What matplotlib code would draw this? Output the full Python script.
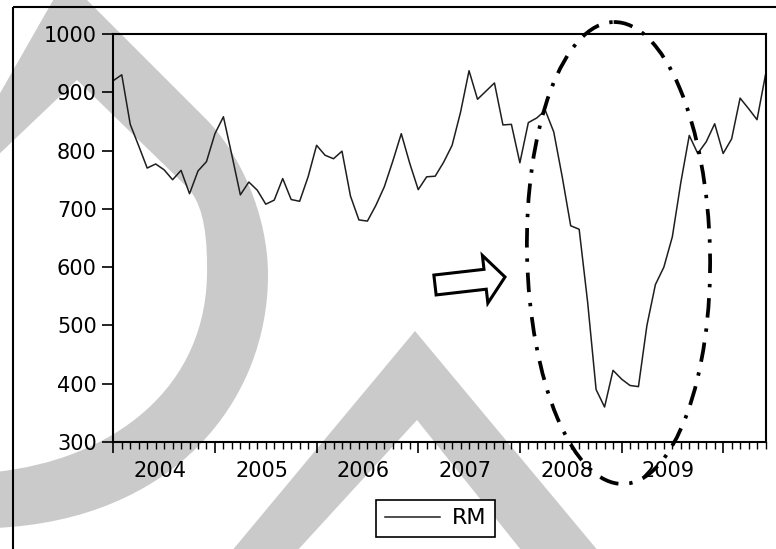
import numpy as np
import matplotlib
matplotlib.use('Agg')
import matplotlib.pyplot as plt
from matplotlib.patches import Ellipse, FancyArrow, PathPatch, Rectangle, Polygon
from matplotlib.path import Path
from matplotlib.transforms import Affine2D

plt.rcParams['font.family'] = ['DejaVu Sans']

W, H = 776, 549

# RM, monthly, 2003M07 .. 2009M12
rm = [920, 930, 845, 808, 770, 777, 767, 750, 766, 726, 765, 781,
      829, 858, 792, 724, 746, 732, 708, 715, 752, 716, 713, 755,
      809, 792, 786, 799, 722, 681, 679, 706, 738, 782, 829, 778,
      733, 755, 756, 780, 809, 866, 937, 888, 902, 916, 844, 845,
      779, 848, 856, 869, 832, 755, 671, 665, 540, 390, 360, 423,
      408, 397, 395, 500, 570, 600, 652, 745, 826, 795, 815, 846,
      795, 820, 890, 872, 853, 930]
years = ['2004', '2005', '2006', '2007', '2008', '2009']
yticks = [300, 400, 500, 600, 700, 800, 900, 1000]

fig = plt.figure(figsize=(W / 100, H / 100), dpi=100)
fig.patch.set_facecolor('white')

# pixel coordinates (origin top-left) for the decorations
px = Affine2D().scale(1 / W, -1 / H).translate(0, 1) + fig.transFigure

# grey background shapes
M, L, C4 = Path.MOVETO, Path.LINETO, Path.CURVE4
band1 = Path([(-5, 102), (65.5, -21.5), (205, 118),
              (240, 153), (268, 215), (268, 275),
              (268, 400), (175, 520), (-5, 528),
              (-5, 472),
              (110, 460), (210, 390), (207, 265),
              (207, 225), (200, 200), (187, 187),
              (77, 80), (-5, 158), (0, 0)],
             [M, L, L, C4, C4, C4, C4, C4, C4, L, C4, C4, C4, C4, C4, C4, L, L,
              Path.CLOSEPOLY])
fig.add_artist(PathPatch(band1, facecolor='#cacaca', lw=0, transform=px, zorder=-10))
fig.add_artist(Polygon([(191, 600), (415, 331), (639, 600), (561, 600), (417, 420), (252, 600)],
                       closed=True, facecolor='#cacaca', lw=0, transform=px, zorder=-10))

# outer border
fig.add_artist(Rectangle((13, 7), 900, 700, fill=False, edgecolor='black', lw=1.5,
                         transform=px, zorder=-5))

ax = fig.add_axes([113.3 / W, 1 - 442 / H, (765.5 - 113.3) / W, (442 - 34) / H])
ax.patch.set_visible(False)

months = np.arange(len(rm))
ax.plot(months, rm, color='#1e1e1e', lw=1.1, label='RM')

ax.set_xlim(0, len(rm) - 1)
ax.set_ylim(yticks[0], yticks[-1])
ax.set_yticks(yticks)
ax.tick_params(axis='y', direction='out', length=8, width=1.2, labelsize=15, pad=4,
               colors='black')
ax.set_xticks(months[::12])
ax.set_xticklabels([])
ax.set_xticks(months, minor=True)
ax.tick_params(axis='x', which='major', direction='out', length=8, width=1.2)
ax.tick_params(axis='x', which='minor', direction='out', length=5, width=1.0)
for s in ax.spines.values():
    s.set_linewidth(1.5)
    s.set_color('black')

# year labels sit between the long ticks
sec = ax.secondary_xaxis('bottom')
sec.set_xticks(np.arange(len(years)) * 12 + 5.5, years)
sec.tick_params(length=0, labelsize=15, pad=14)
sec.spines['bottom'].set_visible(False)

leg = ax.legend(loc='center', bbox_to_anchor=(435.5 / W, 1 - 518.5 / H),
                bbox_transform=fig.transFigure, fancybox=False, edgecolor='black',
                framealpha=1, fontsize=16, handlelength=2.5, handletextpad=0.5,
                borderpad=0.4)
leg.get_frame().set_linewidth(1.2)

# dash-dot ring around the 2008 dip and the hollow arrow pointing at it
fig.add_artist(Ellipse((618.5, 253), 183, 462, angle=-1.2, fill=False, edgecolor='black',
                       lw=2.7, linestyle=(0, (5.2, 2.9, 0.9, 2.9)), transform=px, zorder=10))
fig.add_artist(FancyArrow(435, 285, 70, -8, width=20, head_width=48, head_length=20,
                          length_includes_head=True, fill=False, edgecolor='black', lw=2.2,
                          joinstyle='miter', transform=px, zorder=10))

fig.savefig('out.png', dpi=100)
